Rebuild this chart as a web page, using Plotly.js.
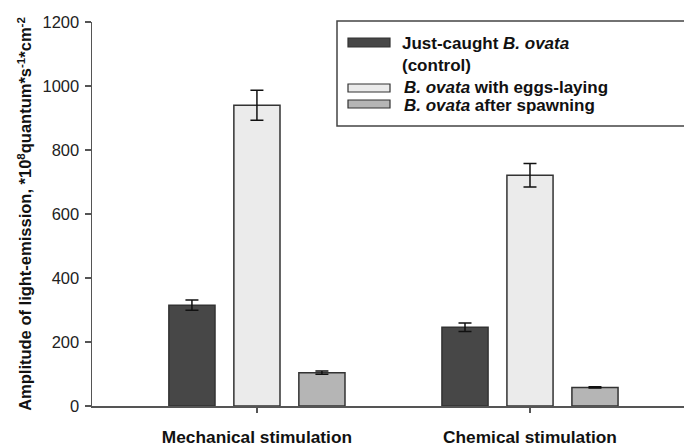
<!DOCTYPE html>
<html>
<head>
<meta charset="utf-8">
<script src="https://cdn.plot.ly/plotly-3.0.1.min.js"></script>
<style>html,body{margin:0;padding:0;background:#fff;}#chart{width:684px;height:448px;}</style>
</head>
<body>
<div id="chart"></div>
<script>
// Data
var categories = ["Mechanical stimulation", "Chemical stimulation"];
var seriesNames = ["Just-caught <i>B. ovata</i><br>(control)", "<i>B. ovata</i> with eggs-laying", "<i>B. ovata</i> after spawning"];
var controlValues = [315, 246];
var controlErrors = [16, 13];
var eggsValues = [940, 721];
var eggsErrors = [47, 37];
var spawnValues = [104, 58];
var spawnErrors = [5, 2];
var yTickVals = [0, 200, 400, 600, 800, 1000, 1200];

var colors = ["#474747", "#ebebeb", "#b5b5b5"];
var xIdx = [0, 1];

function barTrace(vals, errs, color, name) {
  return {
    type: "bar", x: xIdx, y: vals, name: name,
    marker: {color: color, line: {color: "#333333", width: 1.5}},
    error_y: {type: "data", array: errs, visible: true, color: "#111111", thickness: 1.5, width: 6.5},
    showlegend: false, hoverinfo: "y"
  };
}

var data = [
  barTrace(controlValues, controlErrors, colors[0], seriesNames[0]),
  barTrace(eggsValues, eggsErrors, colors[1], seriesNames[1]),
  barTrace(spawnValues, spawnErrors, colors[2], seriesNames[2])
];

// Manual legend (paper coords)
function px2x(p) { return (p - 92) / 592; }
function py2y(p) { return (406 - p) / 384; }
var shapes = [
  {type: "rect", xref: "paper", yref: "paper", x0: px2x(337), x1: px2x(690), y0: py2y(126), y1: py2y(21),
   line: {color: "#444444", width: 1.5}, fillcolor: "#ffffff", layer: "above"}
];
var swatchY = [[38, 47], [84, 92], [100, 108]];
var textY = [54, 87, 105];
var textX = [400, 402, 402];
var annotations = [];
for (var i = 0; i < 3; i++) {
  shapes.push({type: "rect", xref: "paper", yref: "paper", x0: px2x(348), x1: px2x(390),
    y0: py2y(swatchY[i][1]), y1: py2y(swatchY[i][0]),
    line: {color: "#333333", width: 1.2}, fillcolor: colors[i], layer: "above"});
  annotations.push({xref: "paper", yref: "paper", x: px2x(textX[i]), y: py2y(textY[i]),
    xanchor: "left", yanchor: "middle", align: "left", showarrow: false,
    text: "<b>" + seriesNames[i] + "</b>",
    font: {family: "Liberation Sans, Arial, sans-serif", size: 17, color: "#111111"}});
}

var layout = {
  width: 684, height: 448,
  margin: {l: 92, r: 0, t: 22, b: 42, pad: 0},
  paper_bgcolor: "#ffffff", plot_bgcolor: "#ffffff",
  barmode: "group", bargap: 0.286, bargroupgap: 0.29,
  font: {family: "Liberation Sans, Arial, sans-serif", color: "#222222"},
  xaxis: {
    range: [-0.604, 1.564], tickmode: "array", tickvals: xIdx,
    ticktext: categories.map(function (c) { return "<b>" + c + "</b>"; }),
    ticks: "outside", ticklen: 5, tickcolor: "#555555", tickwidth: 1.2,
    ticklabelstandoff: 10,
    tickfont: {size: 17.3, color: "#111111"},
    showline: true, linecolor: "#555555", linewidth: 1.5,
    showgrid: false, zeroline: false, fixedrange: true
  },
  yaxis: {
    range: [0, 1200], tickmode: "array", tickvals: yTickVals,
    ticks: "outside", ticklen: 6, tickcolor: "#555555", tickwidth: 1.2,
    ticklabelstandoff: 2,
    tickfont: {size: 16.5, color: "#222222"},
    showline: true, linecolor: "#555555", linewidth: 1.5,
    showgrid: false, zeroline: false, fixedrange: true,
    title: {text: "<b>Amplitude of light-emission, *10<sup>8</sup>quantum*s<sup>-1</sup>*cm<sup>-2</sup></b>",
      font: {size: 16.5, color: "#111111"}, standoff: 6}
  },
  shapes: shapes,
  annotations: annotations,
  showlegend: false
};

Plotly.newPlot("chart", data, layout, {displayModeBar: false, staticPlot: true});
</script>
</body>
</html>
